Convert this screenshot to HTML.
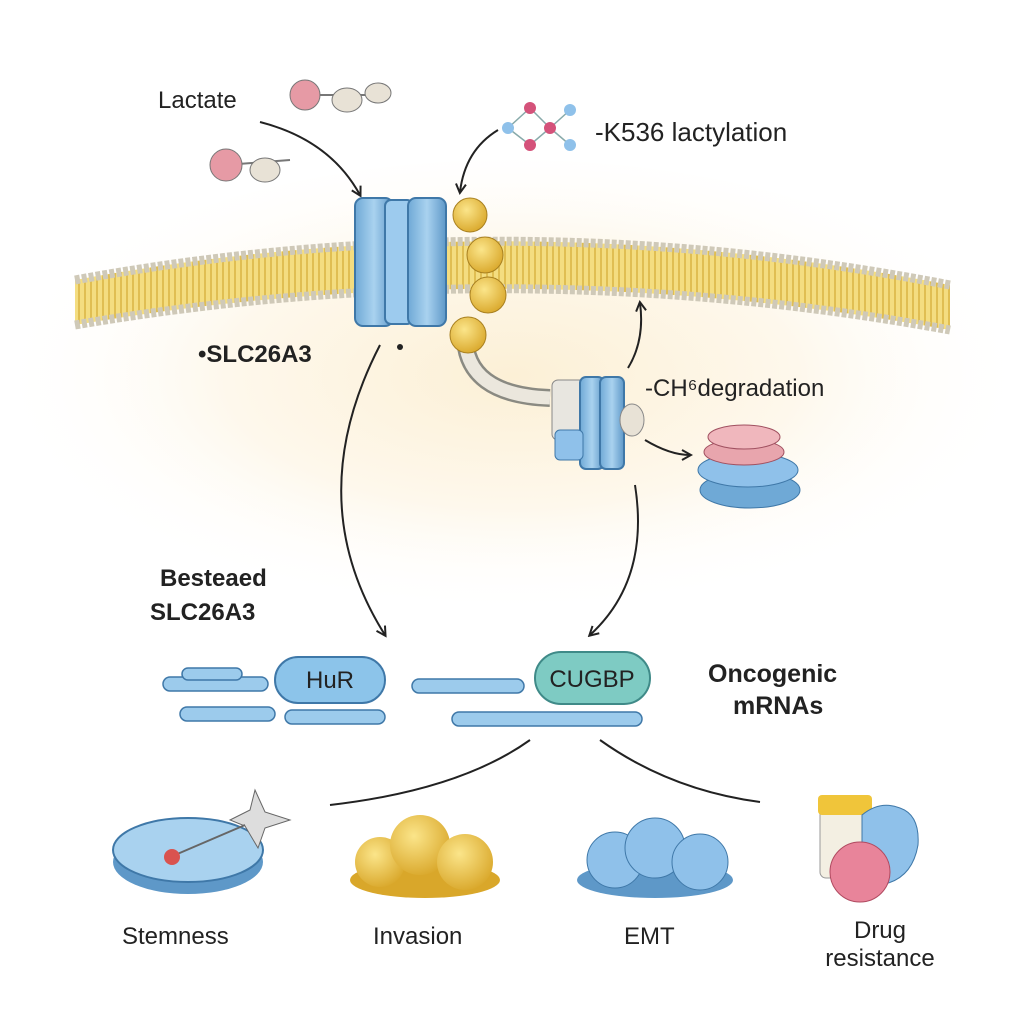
<!DOCTYPE html>
<html><head><meta charset="utf-8"><style>
html,body{margin:0;padding:0;background:#fff}
svg{display:block}
text{font-family:"Liberation Sans",sans-serif;fill:#222}
</style></head><body>
<svg width="1024" height="1024" viewBox="0 0 1024 1024" xmlns="http://www.w3.org/2000/svg">
<defs>
<radialGradient id="glow" cx="0.5" cy="0.45" r="0.5">
<stop offset="0" stop-color="#fcf0d6"/><stop offset="0.55" stop-color="#fef8ec"/><stop offset="1" stop-color="#fff" stop-opacity="0"/>
</radialGradient>
<pattern id="stripes" width="6" height="10" patternUnits="userSpaceOnUse">
<rect width="6" height="10" fill="#f4dd80"/><rect width="2" height="10" fill="#e0be52"/>
</pattern>
<linearGradient id="blue" x1="0" x2="1"><stop offset="0" stop-color="#6fa9d6"/><stop offset="0.5" stop-color="#a9d2ef"/><stop offset="1" stop-color="#5e98c8"/></linearGradient>
<radialGradient id="gold" cx="0.4" cy="0.35" r="0.7"><stop offset="0" stop-color="#fbe58a"/><stop offset="1" stop-color="#d9a72a"/></radialGradient>
<marker id="ah" markerWidth="12" markerHeight="12" refX="9" refY="6" orient="auto" markerUnits="userSpaceOnUse">
<path d="M1,1 L10,6 L1,11" fill="none" stroke="#222" stroke-width="2"/></marker>
</defs>
<rect width="1024" height="1024" fill="#fff"/>
<ellipse cx="512" cy="400" rx="520" ry="240" fill="url(#glow)"/>
<!-- membrane -->
<path d="M75,280 Q512,200 950,285 L950,330 Q512,250 75,325 Z" fill="url(#stripes)"/>
<path d="M75,280 Q512,200 950,285" fill="none" stroke="#cfc9b8" stroke-width="9" stroke-dasharray="5 2"/>
<path d="M75,325 Q512,250 950,330" fill="none" stroke="#cfc9b8" stroke-width="9" stroke-dasharray="5 2"/>
<!-- lactate molecules -->
<g stroke="#777" stroke-width="2">
<line x1="305" y1="95" x2="380" y2="95"/><line x1="225" y1="165" x2="290" y2="160"/>
</g>
<circle cx="305" cy="95" r="15" fill="#e69aa5" stroke="#777"/>
<ellipse cx="347" cy="100" rx="15" ry="12" fill="#e8e2d6" stroke="#777"/>
<ellipse cx="378" cy="93" rx="13" ry="10" fill="#e8e2d6" stroke="#777"/>
<circle cx="226" cy="165" r="16" fill="#e69aa5" stroke="#777"/>
<ellipse cx="265" cy="170" rx="15" ry="12" fill="#e8e2d6" stroke="#777"/>
<!-- K536 molecule -->
<g stroke="#8aa" stroke-width="1.5" fill="none"><path d="M508,128 L530,108 L550,128 L530,145 Z M550,128 L570,110 M550,128 L570,145"/></g>
<g fill="#8fc1ea"><circle cx="508" cy="128" r="6"/><circle cx="570" cy="110" r="6"/><circle cx="570" cy="145" r="6"/></g>
<g fill="#d4527a"><circle cx="530" cy="108" r="6"/><circle cx="550" cy="128" r="6"/><circle cx="530" cy="145" r="6"/></g>
<!-- arrows -->
<g fill="none" stroke="#222" stroke-width="2" marker-end="url(#ah)">
<path d="M260,122 Q330,140 360,195"/>
<path d="M498,130 Q465,150 460,192"/>
<path d="M380,345 Q300,500 385,635"/>
<path d="M635,485 Q650,580 590,635"/>
<path d="M628,368 Q645,340 640,303"/>
<path d="M645,440 Q670,455 690,455"/>
</g>
<g fill="none" stroke="#222" stroke-width="2">
<path d="M530,740 Q460,790 330,805"/>
<path d="M600,740 Q670,790 760,802"/>
</g>
<!-- big transporter -->
<rect x="355" y="198" width="38" height="128" rx="8" fill="url(#blue)" stroke="#3f78a8" stroke-width="2"/>
<rect x="385" y="200" width="28" height="124" rx="6" fill="#9dcbee" stroke="#3f78a8" stroke-width="2"/>
<rect x="408" y="198" width="38" height="128" rx="8" fill="url(#blue)" stroke="#3f78a8" stroke-width="2"/>
<!-- tube -->
<path d="M465,335 Q465,395 550,398" fill="none" stroke="#8a8a82" stroke-width="18"/>
<path d="M465,335 Q465,395 550,398" fill="none" stroke="#ebe7dd" stroke-width="13"/>
<!-- gold chain -->
<circle cx="470" cy="215" r="17" fill="url(#gold)" stroke="#a88020"/>
<circle cx="485" cy="255" r="18" fill="url(#gold)" stroke="#a88020"/>
<circle cx="488" cy="295" r="18" fill="url(#gold)" stroke="#a88020"/>
<circle cx="468" cy="335" r="18" fill="url(#gold)" stroke="#a88020"/>
<!-- small transporter -->
<rect x="552" y="380" width="36" height="60" rx="6" fill="#e8e6e0" stroke="#888"/>
<rect x="580" y="377" width="24" height="92" rx="6" fill="url(#blue)" stroke="#3f78a8" stroke-width="2"/>
<rect x="600" y="377" width="24" height="92" rx="6" fill="url(#blue)" stroke="#3f78a8" stroke-width="2"/>
<rect x="555" y="430" width="28" height="30" rx="5" fill="#8fc1ea" stroke="#3f78a8"/>
<ellipse cx="632" cy="420" rx="12" ry="16" fill="#e8e2d6" stroke="#888"/>
<!-- proteasome stack -->
<ellipse cx="750" cy="490" rx="50" ry="18" fill="#6fa9d6" stroke="#3f78a8"/>
<ellipse cx="748" cy="470" rx="50" ry="17" fill="#8fc1ea" stroke="#3f78a8"/>
<ellipse cx="744" cy="452" rx="40" ry="13" fill="#e8a5ad" stroke="#a05060"/>
<ellipse cx="744" cy="437" rx="36" ry="12" fill="#f0b7bd" stroke="#a05060"/>
<!-- labels -->
<text x="158" y="108" font-size="24">Lactate</text>
<text x="595" y="141" font-size="26">-K536 lactylation</text>
<text x="198" y="362" font-size="24" font-weight="bold">•SLC26A3</text>
<circle cx="400" cy="347" r="3" fill="#222"/>
<text x="645" y="396" font-size="24">-CH⁶degradation</text>
<text x="160" y="586" font-size="24" font-weight="bold">Besteaed</text>
<text x="150" y="620" font-size="24" font-weight="bold">SLC26A3</text>
<!-- mRNAs -->
<g fill="#9ccbec" stroke="#3f78a8" stroke-width="1.5">
<rect x="163" y="677" width="105" height="14" rx="7"/>
<rect x="182" y="668" width="60" height="12" rx="6"/>
<rect x="180" y="707" width="95" height="14" rx="7"/>
<rect x="285" y="710" width="100" height="14" rx="7"/>
<rect x="412" y="679" width="112" height="14" rx="7"/>
<rect x="452" y="712" width="190" height="14" rx="7"/>
</g>
<rect x="275" y="657" width="110" height="46" rx="23" fill="#8cc4ea" stroke="#3f78a8" stroke-width="2"/>
<text x="330" y="688" font-size="24" text-anchor="middle">HuR</text>
<rect x="535" y="652" width="115" height="52" rx="26" fill="#7ecbc3" stroke="#3f8a88" stroke-width="2"/>
<text x="592" y="687" font-size="24" text-anchor="middle">CUGBP</text>
<text x="708" y="682" font-size="25" font-weight="bold">Oncogenic</text>
<text x="733" y="714" font-size="25" font-weight="bold">mRNAs</text>
<!-- bottom icons -->
<ellipse cx="188" cy="862" rx="75" ry="32" fill="#5e98c8"/>
<ellipse cx="188" cy="850" rx="75" ry="32" fill="#a9d2ef" stroke="#3f78a8" stroke-width="2"/>
<path d="M255,790 L265,812 L290,820 L265,828 L258,848 L245,826 L230,820 L250,810 Z" fill="#ddd" stroke="#666"/>
<line x1="175" y1="855" x2="245" y2="825" stroke="#666" stroke-width="2"/>
<circle cx="172" cy="857" r="8" fill="#d9534f"/>
<ellipse cx="425" cy="880" rx="75" ry="18" fill="#d9a72a"/>
<circle cx="380" cy="862" r="25" fill="url(#gold)"/>
<circle cx="420" cy="845" r="30" fill="url(#gold)"/>
<circle cx="465" cy="862" r="28" fill="url(#gold)"/>
<ellipse cx="655" cy="880" rx="78" ry="18" fill="#5e98c8"/>
<circle cx="615" cy="860" r="28" fill="#8fc1ea" stroke="#3f78a8"/>
<circle cx="655" cy="848" r="30" fill="#8fc1ea" stroke="#3f78a8"/>
<circle cx="700" cy="862" r="28" fill="#8fc1ea" stroke="#3f78a8"/>
<rect x="820" y="808" width="50" height="70" rx="6" fill="#f3efe2" stroke="#999"/>
<rect x="818" y="795" width="54" height="20" rx="4" fill="#f0c53a"/>
<path d="M862,815 Q880,800 900,808 Q920,815 918,845 Q912,880 880,885 L862,880 Z" fill="#8fc1ea" stroke="#3f78a8"/>
<circle cx="860" cy="872" r="30" fill="#e8849a" stroke="#b04a60"/>
<text x="122" y="944" font-size="24">Stemness</text>
<text x="373" y="944" font-size="24">Invasion</text>
<text x="624" y="944" font-size="24">EMT</text>
<text x="880" y="938" font-size="24" text-anchor="middle">Drug</text>
<text x="880" y="966" font-size="24" text-anchor="middle">resistance</text>
</svg>
</body></html>
